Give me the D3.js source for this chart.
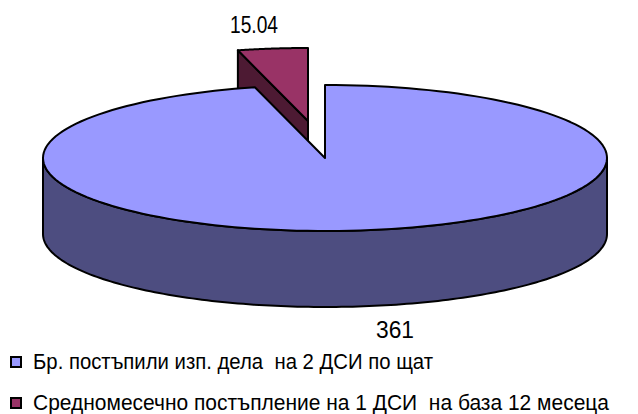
<!DOCTYPE html>
<html><head><meta charset="utf-8">
<script src="https://cdn.jsdelivr.net/npm/d3@7"></script>
<style>html,body{margin:0;padding:0;background:#fff}svg{display:block}text{font-family:"Liberation Sans",Arial,sans-serif;fill:#000}</style>
</head><body><svg id="c" width="638" height="414"></svg>
<script>
const categories = ["Бр. постъпили изп. дела  на 2 ДСИ по щат", "Средномесечно постъпление на 1 ДСИ  на база 12 месеца"];
const values = [361, 15.04];
const valueLabels = ["361", "15.04"];
const topColors = ["#9999ff", "#993366"];
const sideColors = ["#4d4d80", "#4d1a33"];

const W = 638, H = 414, cx = 325, cy = 158, rx = 282, ry = 73, depth = 76;
const explode = [[0, 0], [-17, -37]];
const svg = d3.select("#c");
const pie = d3.pie().sort(null).value(d => d)(values);
const px = (o, t) => [o[0] + rx * Math.sin(t), o[1] - ry * Math.cos(t)];
const line = d3.line();
const arcPts = (o, a, b, n = 160) => d3.range(n + 1).map(i => px(o, a + (b - a) * i / n));

function drawSlice(i) {
  const p = pie[i], o = [cx + explode[i][0], cy + explode[i][1]];
  const a = p.startAngle, b = p.endAngle;
  const g = svg.append("g").attr("stroke", "#000").attr("stroke-width", 2).attr("stroke-linejoin", "round");
  if (i === 1) {
    const A = px(o, a), C = o;
    g.append("path").attr("fill", sideColors[i]).attr("d", line([A, C, [C[0], C[1] + depth], [A[0], A[1] + depth]]) + "Z");
  } else {
    const lo = Math.PI / 2, hi = 3 * Math.PI / 2;
    const top = arcPts(o, lo, hi);
    const bot = top.slice().reverse().map(q => [q[0], q[1] + depth]);
    g.append("path").attr("fill", sideColors[i]).attr("d", line(top.concat(bot)) + "Z");
  }
  g.append("path").attr("fill", topColors[i]).attr("d", line([o].concat(arcPts(o, a, b))) + "Z");
}
drawSlice(1);
drawSlice(0);

const lblPos = [[395, 338], [254, 33]];
const lblW = [38, 48];
valueLabels.forEach((t, i) => svg.append("text").attr("x", lblPos[i][0]).attr("y", lblPos[i][1])
  .attr("text-anchor", "middle").attr("font-size", 23)
  .attr("textLength", lblW[i]).attr("lengthAdjust", "spacingAndGlyphs").text(t));

const legY = d3.scalePoint().domain(categories).range([362, 403]);
const legW = [400, 576];
categories.forEach((t, i) => {
  const y = legY(t);
  svg.append("rect").attr("x", 11).attr("y", y - 5).attr("width", 10).attr("height", 10)
    .attr("fill", topColors[i]).attr("stroke", "#000").attr("stroke-width", 2);
  svg.append("text").attr("x", 33).attr("y", y + 7).attr("font-size", 22)
    .attr("textLength", legW[i]).attr("lengthAdjust", "spacingAndGlyphs").style("white-space", "pre").text(t);
});
</script></body></html>
